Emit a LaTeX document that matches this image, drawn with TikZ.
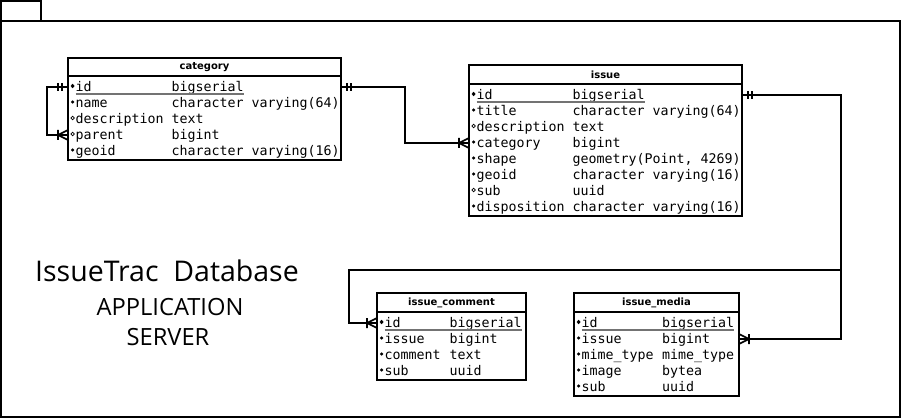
\documentclass[tikz,border=0pt]{standalone}
\usepackage{fontspec}
\newfontfamily\monof{DejaVu Sans Mono}
\newfontfamily\hdrf{DejaVu Sans}
\newfontfamily\titlef{Open Sans}
\usetikzlibrary{calc,shapes.geometric}
\tikzset{
  hdrbox/.style={draw, line width=2pt, outer sep=0pt, inner sep=0pt,
    font=\hdrf\bfseries\fontsize{10}{10}\selectfont},
  bodybox/.style={draw, line width=2pt, outer sep=0pt, inner sep=0pt},
  mono/.style={inner sep=0pt, outer sep=0pt, font=\monof\fontsize{13.3}{13.3}\selectfont},
  buld/.style={diamond, fill=black, inner sep=0pt, minimum width=4.2pt, minimum height=4.6pt},
  bulf/.style={circle, fill=black, inner sep=0pt, minimum size=3.4pt},
  bulo/.style={circle, draw=black, line width=0.7pt, inner sep=0pt, minimum size=3.6pt},
  keyline/.style={line width=1.3pt, draw=black!55},
  conn/.style={line width=2pt, line join=miter},
  frame/.style={line width=2pt},
  markline/.style={line width=1.6pt},
  oneone/.pic={\draw[markline] (-6,-4) -- (-6,4) (-10,-4) -- (-10,4);},
  crow/.pic={\draw[markline] (-10,0) -- (0,5) (-10,0) -- (0,-5) (-10,-5) -- (-10,5);},
  titletext/.style={inner sep=0pt, anchor=base},
}
% #1 prefix, #2 left, #3 top, #4 width, #5 header h, #6 body h, #7 title, #8 type offset, #9 rows
\newcommand\mktable[9]{%
  \node[hdrbox, minimum width=#4pt, minimum height=#5pt, anchor=north west] (#1) at (#2,#3) {#7};
  \node[bodybox, minimum width=#4pt, minimum height=#6pt, anchor=north west] (#1b) at (#1.south west) {};
  \foreach \nm/\ty/\k [count=\i] in {#9} {
    \pgfmathsetmacro\cy{#3+#5+11+16*(\i-1)}
    \coordinate (#1-r\i) at (#2,\cy);
    \node[bul\k] (#1-b\i) at (#2+4.6,\cy-1) {};
    \node[mono, anchor=base west] (#1-n\i) at (#2+7.5,\cy+4.5) {\nm};
    \node[mono, anchor=base west] (#1-t\i) at (#2+7.5+#8,\cy+4.5) {\ty};
  }
  \draw[keyline] ([yshift=-2.6pt]#1-n1.base west) -- ([yshift=-2.6pt]#1-t1.base east);
}
\begin{document}
\begin{tikzpicture}[x=1pt,y=-1pt]
\useasboundingbox (0,0) rectangle (901,419);
% frame
\draw[frame] (1,21) rectangle (900,417);
\draw[frame] (1,1) rectangle (41,21);
% title
\node[titletext, font=\titlef\fontsize{28.5}{28.5}\selectfont] (ttl) at (167,281.7) {IssueTrac~~Database};
\node[titletext, font=\titlef\fontsize{23.7}{23.7}\selectfont] (app) at (170,315) {APPLICATION};
\node[titletext, font=\titlef\fontsize{23.7}{23.7}\selectfont] (srv) at (168,345) {SERVER};
% tables
\mktable{cat}{68}{58}{273}{18}{84}{category}{96}{%
  id/bigserial/d, name/character varying(64)/f, description/text/o,
  parent/bigint/o, geoid/character varying(16)/f}
\mktable{iss}{469}{65}{273}{19}{132}{issue}{96}{%
  id/bigserial/d, title/character varying(64)/f, description/text/o,
  category/bigint/f, shape/{geometry(Point, 4269)}/f, geoid/character varying(16)/f,
  sub/uuid/o, disposition/character varying(16)/f}
\mktable{com}{377}{293}{149}{19}{68}{issue\_comment}{65}{%
  id/bigserial/d, issue/bigint/f, comment/text/f, sub/uuid/f}
\mktable{med}{574}{293}{165}{19}{84}{issue\_media}{80.5}{%
  id/bigserial/d, issue/bigint/f, mime\_type/mime\_type/f, image/bytea/f, sub/uuid/f}
% bend coordinates
\coordinate (k0) at (47,0);
\coordinate (k1) at (405,0);
\coordinate (k2) at (841,0);
\coordinate (k3) at (0,270);
\coordinate (k4) at (349,0);
% connectors
\draw[conn] (cat-r1) -- (k0 |- cat-r1) -- (k0 |- cat-r4) -- (cat-r4);
\draw[conn] (catb.east |- cat-r1) -- (k1 |- cat-r1) -- (k1 |- iss-r4) -- (iss-r4);
\draw[conn] (issb.east |- iss-r1) -- (k2 |- iss-r1) -- (k2 |- k3) -- (k4 |- k3) -- (k4 |- com-r1) -- (com-r1);
\draw[conn] (k2 |- k3) -- (k2 |- med-r2) -- (medb.east |- med-r2);
% marks
\pic at (cat-r1) {oneone};
\pic at (cat-r4) {crow};
\pic[rotate=180] at (catb.east |- cat-r1) {oneone};
\pic at (iss-r4) {crow};
\pic[rotate=180] at (issb.east |- iss-r1) {oneone};
\pic at (com-r1) {crow};
\pic[rotate=180] at (medb.east |- med-r2) {crow};
\end{tikzpicture}
\end{document}
